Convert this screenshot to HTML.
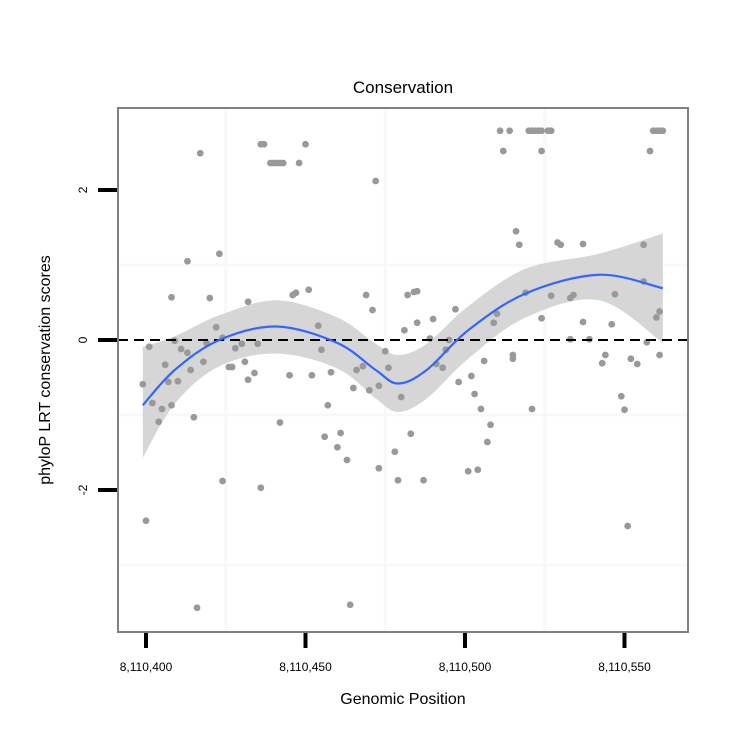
<!DOCTYPE html>
<html><head><meta charset="utf-8"><style>
body{margin:0;background:#fff;}
svg{display:block;font-family:"Liberation Sans",sans-serif;}
</style></head><body>
<svg id="chart" width="750" height="750">
<rect x="0" y="0" width="750" height="750" fill="#fff"/>
<g id="grid"></g>
<g id="band"></g>
<g id="pts"></g>
<line x1="118" x2="688" y1="340" y2="340" stroke="#000" stroke-width="2" stroke-dasharray="10,6"/>
<g id="fit"></g>
<rect x="118" y="108" width="570" height="524" fill="none" stroke="#808080" stroke-width="2"/>
<g id="axes"></g>
<text x="403" y="93" text-anchor="middle" font-size="17">Conservation</text>
<text x="403" y="704" text-anchor="middle" font-size="16">Genomic Position</text>
<text transform="translate(50,370) rotate(-90)" text-anchor="middle" font-size="16">phyloP LRT conservation scores</text>
</svg>
<script>
const posX = [399,400,401,402,404,405,406,407,408,408,409,410,411,413,413,414,415,416,417,418,419,420,422,423,424,424,426,427,428,430,431,432,432,434,435,436,436,437,439,440,441,442,443,442,445,446,447,448,450,451,452,454,455,456,457,458,460,461,463,464,465,466,468,469,470,471,472,473,473,475,476,478,479,480,481,482,483,484,485,485,487,489,490,491,493,494,495,497,498,501,502,503,504,505,506,507,508,509,510,511,512,514,515,516,517,519,521,520,521,522,523,524,526,527,524,524,527,530,533,533,534,537,539,537,543,546,547,549,550,551,552,554,556,557,558,559,560,561,562,560,561,561,556,544,529,515];
const scores = [-0.59,-2.41,-0.09,-0.84,-1.09,-0.92,-0.33,-0.56,0.57,-0.87,-0.01,-0.55,-0.12,1.05,-0.17,-0.4,-1.03,-3.57,2.49,-0.29,-0.04,0.56,0.17,1.15,-1.88,0.03,-0.36,-0.36,-0.11,-0.05,-0.29,0.51,-0.53,-0.44,-0.05,-1.97,2.61,2.61,2.36,2.36,2.36,-1.1,2.36,2.36,-0.47,0.6,0.63,2.36,2.61,0.67,-0.47,0.19,-0.13,-1.29,-0.87,-0.43,-1.43,-1.24,-1.6,-3.53,-0.64,-0.4,-0.35,0.6,-0.67,0.4,2.12,-1.71,-0.61,-0.15,-0.37,-1.49,-1.87,-0.76,0.13,0.6,-1.25,0.64,0.65,0.23,-1.87,0.02,0.28,-0.32,-0.37,-0.13,0.0,0.41,-0.56,-1.75,-0.48,-0.72,-1.73,-0.92,-0.28,-1.36,-1.13,0.23,0.35,2.79,2.52,2.79,-0.25,1.45,1.27,0.63,-0.92,2.79,2.79,2.79,2.79,2.52,2.79,2.79,0.29,2.79,0.59,1.27,0.01,0.56,0.6,1.28,0.01,0.24,-0.31,0.21,0.61,-0.75,-0.93,-2.48,-0.25,-0.32,1.27,-0.03,2.52,2.79,2.79,2.79,2.79,0.3,0.38,-0.2,0.78,-0.2,1.3,-0.2,-0.3];
const fitX = [399,409,423,441,460,472,479,488,501,519,542,562];
const fitY = [-0.87,-0.4,0.0,0.18,-0.04,-0.4,-0.58,-0.4,0.13,0.62,0.87,0.69];
const loY = [-1.57,-0.85,-0.35,-0.18,-0.38,-0.78,-0.96,-0.78,-0.25,0.3,0.53,-0.04];
const hiY = [-0.09,0.05,0.33,0.53,0.3,-0.05,-0.2,-0.05,0.45,0.95,1.15,1.42];
const xTicks = [400,450,500,550];
const xTickLabels = ["8,110,400","8,110,450","8,110,500","8,110,550"];
const yTicks = [2,0,-2];
const yTickLabels = ["2","0","-2"];
const gridX = [425,475,525];
const gridY = [1,-1,-3];

const NS="http://www.w3.org/2000/svg";
const sx = v => 146 + (v-400)*3.19;
const sy = v => 340 - v*75;
function mk(t,a,p){const e=document.createElementNS(NS,t);for(const k in a)e.setAttribute(k,a[k]);p.appendChild(e);return e;}
function curve(xs,ys){
  const P=xs.map((x,i)=>[sx(x),sy(ys[i])]);
  let d=`M${P[0][0]},${P[0][1]}`;
  for(let i=0;i<P.length-1;i++){
    const p0=P[i-1]||P[i],p1=P[i],p2=P[i+1],p3=P[i+2]||P[i+1];
    d+=` C${p1[0]+(p2[0]-p0[0])/6},${p1[1]+(p2[1]-p0[1])/6} ${p2[0]-(p3[0]-p1[0])/6},${p2[1]-(p3[1]-p1[1])/6} ${p2[0]},${p2[1]}`;
  }
  return d;
}
const grid=document.getElementById('grid');
gridX.forEach(v=>{const l=mk('line',{x1:sx(v),x2:sx(v),y1:108,y2:632,stroke:'#f8f8f8','stroke-width':3},grid);

});
gridY.forEach(v=>{const l=mk('line',{x1:118,x2:688,y1:sy(v),y2:sy(v),stroke:'#f8f8f8','stroke-width':3},grid);

});
const up=curve(fitX,hiY);
const rx=fitX.slice().reverse(), ry=loY.slice().reverse();
const lo=curve(rx,ry).replace(/^M/,'L');
const band=mk('path',{d:up+' '+lo+' Z',fill:'#d6d6d6'},document.getElementById('band'));


const pts=document.getElementById('pts');
posX.forEach((x,i)=>{const c=mk('circle',{cx:sx(x),cy:sy(scores[i]),r:3.4,fill:'#999'},pts);

});
const f=mk('path',{d:curve(fitX,fitY),fill:'none',stroke:'#3366ff','stroke-width':2.2},document.getElementById('fit'));


const ax=document.getElementById('axes');
xTicks.forEach((v,i)=>{
  const t=mk('line',{x1:sx(v),x2:sx(v),y1:633,y2:648,stroke:'#000','stroke-width':4},ax);
  
  
  const l=mk('text',{x:sx(v),y:671,'text-anchor':'middle','font-size':12},ax);l.textContent=xTickLabels[i];
  
  
});
yTicks.forEach((v,i)=>{
  const t=mk('line',{x1:98,x2:117,y1:sy(v),y2:sy(v),stroke:'#000','stroke-width':4},ax);
  
  
  const l=mk('text',{transform:`translate(87,${sy(v)}) rotate(-90)`,'text-anchor':'middle','font-size':12},ax);l.textContent=yTickLabels[i];
  
  
});
</script>
</body></html>
